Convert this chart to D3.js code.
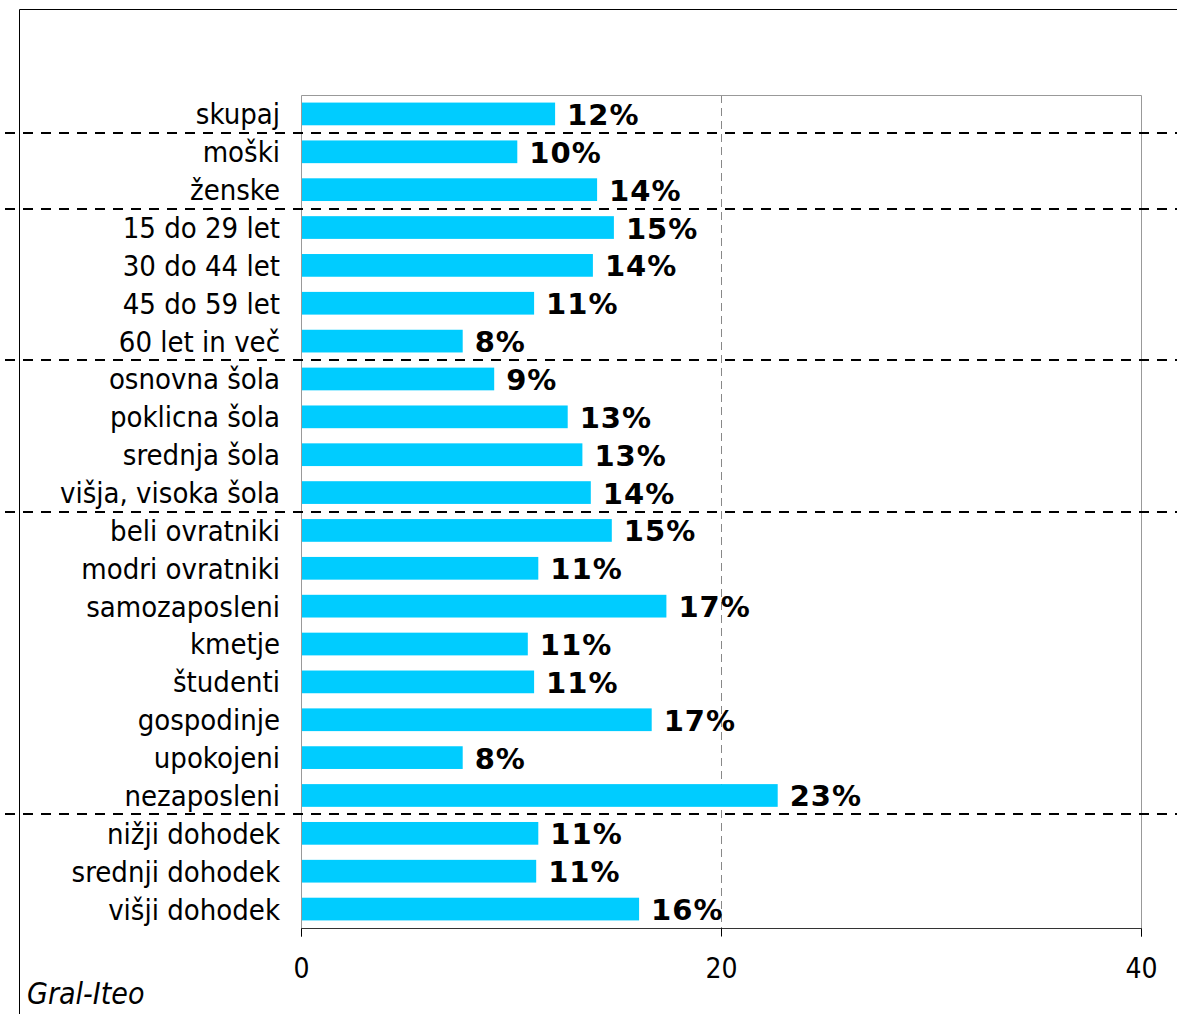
<!DOCTYPE html>
<html>
<head>
<meta charset="utf-8">
<script src="https://cdn.jsdelivr.net/npm/d3@7"></script>
<style>
  body { margin: 0; background: #fff; }
  svg { display: block; }
</style>
</head>
<body>
<script>
// chart data
var categories = ["skupaj", "moški", "ženske", "15 do 29 let", "30 do 44 let", "45 do 59 let",
  "60 let in več", "osnovna šola", "poklicna šola", "srednja šola", "višja, visoka šola",
  "beli ovratniki", "modri ovratniki", "samozaposleni", "kmetje", "študenti", "gospodinje",
  "upokojeni", "nezaposleni", "nižji dohodek", "srednji dohodek", "višji dohodek"];
var values = [12.1, 10.3, 14.1, 14.9, 13.9, 11.1, 7.7, 9.2, 12.7, 13.4, 13.8,
  14.8, 11.3, 17.4, 10.8, 11.1, 16.7, 7.7, 22.7, 11.3, 11.2, 16.1];
var valueLabels = ["12%", "10%", "14%", "15%", "14%", "11%", "8%", "9%", "13%", "13%", "14%",
  "15%", "11%", "17%", "11%", "11%", "17%", "8%", "23%", "11%", "11%", "16%"];
var groupEnds = ["skupaj", "ženske", "60 let in več", "višja, visoka šola", "nezaposleni"]; // dashed line under these
var xTicks = [0, 20, 40];
var source = "Gral-Iteo";

var width = 1177, height = 1014;
var plotLeft = 301, plotRight = 1141, plotTop = 95, plotBottom = 928;

var svg = d3.select("body").append("svg")
    .attr("width", width)
    .attr("height", height);

// outer frame (cut off on the right and bottom)
svg.append("path")
    .attr("d", "M19.5," + height + "V9.5H" + width)
    .attr("fill", "none")
    .attr("stroke", "#000")
    .attr("stroke-width", 1);

var x = d3.scaleLinear().domain([0, 40]).range([plotLeft, plotRight]);
var y = d3.scaleBand().domain(categories).range([plotTop, plotBottom]).paddingInner(0.4).paddingOuter(0.2);

// gridline at 20
svg.selectAll(".grid").data(xTicks.filter(function(d){ return d > 0 && d < 40; }))
  .enter().append("line")
    .attr("x1", function(d){ return x(d) + 0.5; })
    .attr("x2", function(d){ return x(d) + 0.5; })
    .attr("y1", plotTop).attr("y2", plotBottom)
    .attr("stroke", "#888")
    .attr("stroke-dasharray", "8,5");

// plot area border (top, right, left in gray)
svg.append("path")
    .attr("d", "M" + (plotLeft + 0.5) + "," + plotBottom + "V" + (plotTop + 0.5) + "H" + (plotRight + 0.5) + "V" + plotBottom)
    .attr("fill", "none")
    .attr("stroke", "#999");

// bars
svg.selectAll(".bar").data(categories)
  .enter().append("rect")
    .attr("x", x(0) + 1)
    .attr("y", function(d){ return y(d); })
    .attr("width", function(d, i){ return x(values[i]) - x(0) - 1; })
    .attr("height", y.bandwidth())
    .attr("fill", "#00ccff");

// value labels
svg.selectAll(".val").data(categories)
  .enter().append("text")
    .attr("x", function(d, i){ return x(values[i]) + 12; })
    .attr("y", function(d){ return y(d) + y.bandwidth() / 2; })
    .attr("dy", "0.38em")
    .attr("font-family", "DejaVu Sans")
    .attr("font-weight", "bold")
    .attr("font-size", 29)
    .attr("letter-spacing", 1)
    .text(function(d, i){ return valueLabels[i]; });

// category labels
svg.selectAll(".cat").data(categories)
  .enter().append("text")
    .attr("x", plotLeft - 21)
    .attr("y", function(d){ return y(d) + y.bandwidth() / 2; })
    .attr("dy", "0.36em")
    .attr("text-anchor", "end")
    .attr("font-family", "DejaVu Sans Condensed")
    .attr("font-size", 29)
    .text(function(d){ return d; });

// group separators
var step = y.step();
svg.selectAll(".sep").data(groupEnds)
  .enter().append("line")
    .attr("x1", 5).attr("x2", width)
    .attr("y1", function(d){ return Math.round(y(d) - y.paddingInner() * step / 2 + step); })
    .attr("y2", function(d){ return Math.round(y(d) - y.paddingInner() * step / 2 + step); })
    .attr("stroke", "#000")
    .attr("stroke-width", 2)
    .attr("stroke-dasharray", "10,8");

// x axis
var xAxis = d3.axisBottom(x).tickValues(xTicks).tickSize(8).tickPadding(22).tickFormat(d3.format("d"));
var gx = svg.append("g")
    .attr("transform", "translate(0," + (plotBottom + 0.5) + ")")
    .call(xAxis);
gx.select(".domain").attr("stroke", "#333").attr("d", "M" + (plotLeft + 0.5) + ",8V0H" + (plotRight + 0.5) + "V8");
gx.selectAll(".tick line").attr("stroke", "#000");
gx.selectAll(".tick text")
    .attr("font-family", "DejaVu Sans Condensed")
    .attr("font-size", 28)
    .attr("fill", "#000");

// source
svg.append("text")
    .attr("x", 27)
    .attr("y", 1004)
    .attr("font-family", "DejaVu Sans Condensed")
    .attr("font-style", "italic")
    .attr("font-size", 30)
    .text(source);
</script>
</body>
</html>
